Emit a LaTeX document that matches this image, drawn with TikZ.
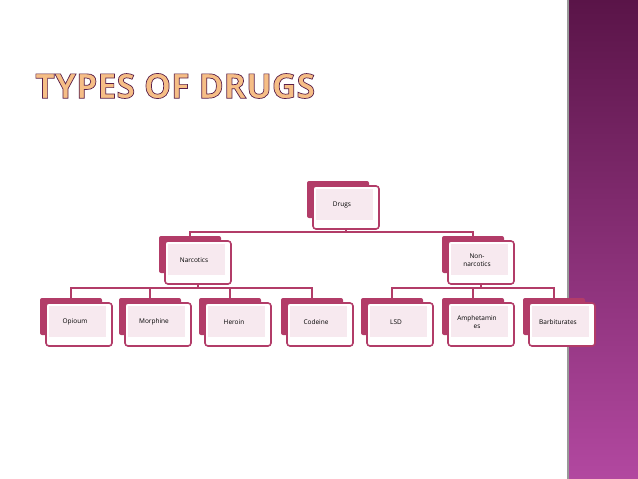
\documentclass[tikz,border=0pt]{standalone}
\usepackage{fontspec}
\setmainfont{Open Sans}
\usetikzlibrary{calc}
\definecolor{pk}{HTML}{B23C68}
\definecolor{lt}{HTML}{F7E9EF}
\definecolor{tor}{HTML}{F6BE86}
\tikzset{
 back/.style={fill=pk,draw=pk,rounded corners=2pt},
 front/.style={fill=white,draw=pk,line width=1.6pt,rounded corners=3pt},
 lbl/.style={font=\fontsize{6.5}{7.5}\selectfont,align=center,text width=56pt},
 con/.style={draw=pk,line width=1.6pt},
}
\newcommand{\mybox}[4]{% name, x, y(top of front), text
 \fill[pk,rounded corners=2pt] (#2-6,#3-5) rectangle (#2+56,#3+32);
 \coordinate (#1t) at (#2+25,#3-5);
 \coordinate (#1b) at (#2+33,#3+43);
 \draw[front] (#2,#3) rectangle (#2+66,#3+43);
 \fill[lt] (#2+3,#3+3) rectangle (#2+60,#3+34);
 \node[lbl] (#1) at (#2+29,#3+19) {#4};
}
\begin{document}
\begin{tikzpicture}[x=1pt,y=-1pt]
\useasboundingbox (0,0) rectangle (638,479);
\shade[top color={rgb,255:red,90;green,20;blue,72},bottom color={rgb,255:red,178;green,72;blue,160}] (569,0) rectangle (638,479);
\fill[black!40] (567,0) rectangle (569,479);
\node[anchor=west,inner sep=0] (title) at (35,86) {\fontsize{34}{36}\selectfont\bfseries\color{tor}\special{pdf:literal 0.35 0.12 0.29 RG 2 Tr 0.7 w}TYPES OF DRUGS\special{pdf:literal 0 Tr}};
\mybox{drugs}{313}{186}{Drugs}
\mybox{narc}{165}{241}{Narcotics}
\mybox{nonn}{448}{241}{Non-\\narcotics}
\mybox{opi}{46}{303}{Opioum}
\mybox{mor}{125}{303}{Morphine}
\mybox{her}{205}{303}{Heroin}
\mybox{cod}{287}{303}{Codeine}
\mybox{lsd}{367}{303}{LSD}
\mybox{amp}{448}{303}{Amphetamin\\es}
\mybox{bar}{529}{303}{Barbiturates}
\draw[con] (drugsb) -- ++(0,3) coordinate (d1);
\draw[con] (narct) |- (d1) -| (nonnt);
\draw[con] (narcb) -- ++(0,4) coordinate (n1);
\draw[con] (opit) |- (n1) -| (codt);
\draw[con] (mort) -- (mort |- n1);
\draw[con] (hert) -- (hert |- n1);
\draw[con] (nonnb) -- ++(0,4) coordinate (m1);
\draw[con] (lsdt) |- (m1) -| (bart);
\draw[con] (ampt) -- (ampt |- m1);
\end{tikzpicture}
\end{document}
